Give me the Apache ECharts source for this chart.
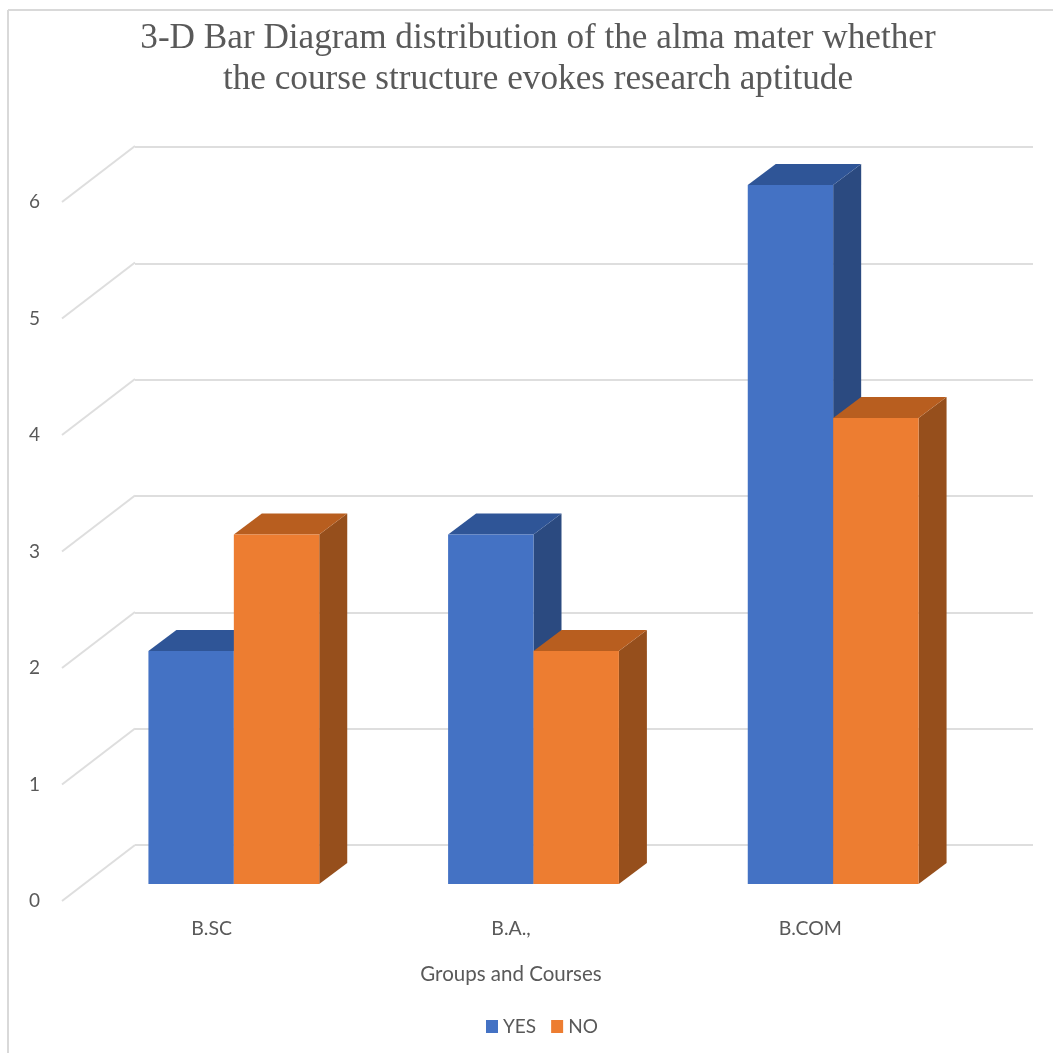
<!DOCTYPE html>
<html><head><meta charset="utf-8">
<style>html,body{margin:0;padding:0;background:#fff}#c{width:1053px;height:1053px}</style>
<script src="https://cdn.jsdelivr.net/npm/echarts@6/dist/echarts.min.js"></script>
</head><body><div id="c"></div>
<script>
const categories = ['B.SC', 'B.A.,', 'B.COM'];
const yesValues = [2, 3, 6];
const noValues = [3, 2, 4];
const wallTicks = [0, 1, 2, 3, 4, 5, 6];
const titleText = '3-D Bar Diagram distribution of the alma mater whether\nthe course structure evokes research aptitude';
const xName = 'Groups and Courses';

const depth = [28, -21];
const floorShift = [73, -56];
const barShare = 0.285;
const labelFont = 'Lato, "Open Sans", sans-serif';
const labelColor = '#595959';
const gridColor = '#dedede';

function barRenderer(seriesOffset, front, top, side) {
  return function (params, api) {
    const c = api.coord([api.value(0), api.value(1)]);
    const base = api.coord([api.value(0), 0]);
    const w = api.size([1, 0])[0] * barShare;
    const x0 = c[0] + seriesOffset * w, x1 = x0 + w;
    const y0 = c[1], y1 = base[1];
    const dx = depth[0], dy = depth[1];
    return {
      type: 'group',
      children: [
        { type: 'polygon', shape: { points: [[x1, y0], [x1 + dx, y0 + dy], [x1 + dx, y1 + dy], [x1, y1]] }, style: { fill: side } },
        { type: 'polygon', shape: { points: [[x0, y0], [x0 + dx, y0 + dy], [x1 + dx, y0 + dy], [x1, y0]] }, style: { fill: top } },
        { type: 'rect', shape: { x: x0, y: y0, width: w, height: y1 - y0 }, style: { fill: front } }
      ]
    };
  };
}

const chart = echarts.init(document.getElementById('c'), null, { renderer: 'canvas' });
chart.setOption({
  animation: false,
  backgroundColor: '#fff',
  title: {
    text: titleText,
    left: 533, top: 13, textAlign: 'center',
    textStyle: { fontFamily: '"Liberation Serif", serif', fontSize: 35.2, fontWeight: 'normal', color: '#595959', lineHeight: 41 }
  },
  legend: {
    left: 486, top: 1017, padding: 0, itemWidth: 12, itemHeight: 13, itemGap: 15,
    icon: 'rect',
    data: ['YES', 'NO'],
    textStyle: { fontFamily: labelFont, fontSize: 19, color: labelColor, padding: [0, 0, 0, 0] }
  },
  graphic: [
    { type: 'line', shape: { x1: 8, y1: 10, x2: 8, y2: 1053 }, style: { stroke: '#d9d9d9', lineWidth: 2 } },
    { type: 'line', shape: { x1: 8, y1: 10, x2: 1053, y2: 10 }, style: { stroke: '#d9d9d9', lineWidth: 2 } }
  ],
  grid: [
    { left: 62, top: 202, width: 898, height: 699 },
    { left: 135, top: 147, width: 898, height: 698 },
    { left: 84, top: 185, width: 899, height: 699 }
  ],
  xAxis: [
    {
      gridIndex: 0, type: 'category', data: categories,
      axisLine: { show: false }, axisTick: { show: false },
      axisLabel: { margin: 18, fontFamily: labelFont, fontSize: 19.5, color: labelColor },
      name: xName, nameLocation: 'middle', nameGap: 63,
      nameTextStyle: { fontFamily: labelFont, fontSize: 20.5, color: labelColor }
    },
    { gridIndex: 1, type: 'category', data: categories, show: false },
    { gridIndex: 2, type: 'category', data: categories, show: false }
  ],
  yAxis: [
    {
      gridIndex: 0, type: 'value', min: 0, max: 6, interval: 1,
      axisLine: { show: false }, axisTick: { show: false }, splitLine: { show: false },
      axisLabel: { margin: 22, padding: [4, 0, 0, 0], fontFamily: labelFont, fontSize: 19, color: labelColor }
    },
    {
      gridIndex: 1, type: 'value', min: 0, max: 6, interval: 1,
      axisLine: { show: false }, axisTick: { show: false }, axisLabel: { show: false },
      splitLine: { show: true, lineStyle: { color: gridColor, width: 2 } }
    },
    { gridIndex: 2, type: 'value', min: 0, max: 6, interval: 1, show: false, splitLine: { show: false } }
  ],
  series: [
    {
      name: 'floorLines', type: 'custom', xAxisIndex: 0, yAxisIndex: 0, silent: true,
      encode: { x: 0, y: 1 }, legendHoverLink: false,
      data: wallTicks.map(t => [0, t]),
      renderItem(params, api) {
        const v = api.value(1);
        const gridLeft = params.coordSys.x;
        const p = api.coord([0, v]);
        return {
          type: 'line',
          shape: { x1: gridLeft, y1: p[1], x2: gridLeft + floorShift[0], y2: p[1] + floorShift[1] },
          style: { stroke: gridColor, lineWidth: 2 }
        };
      }
    },
    {
      name: 'YES', type: 'custom', xAxisIndex: 2, yAxisIndex: 2,
      itemStyle: { color: '#4472C4' }, encode: { x: 0, y: 1 },
      data: yesValues.map((v, i) => [i, v]),
      renderItem: barRenderer(-1, '#4472C4', '#2F5597', '#2B4A80')
    },
    {
      name: 'NO', type: 'custom', xAxisIndex: 2, yAxisIndex: 2,
      itemStyle: { color: '#ED7D31' }, encode: { x: 0, y: 1 },
      data: noValues.map((v, i) => [i, v]),
      renderItem: barRenderer(0, '#ED7D31', '#B85E1F', '#964F1C')
    }
  ]
});
</script></body></html>
